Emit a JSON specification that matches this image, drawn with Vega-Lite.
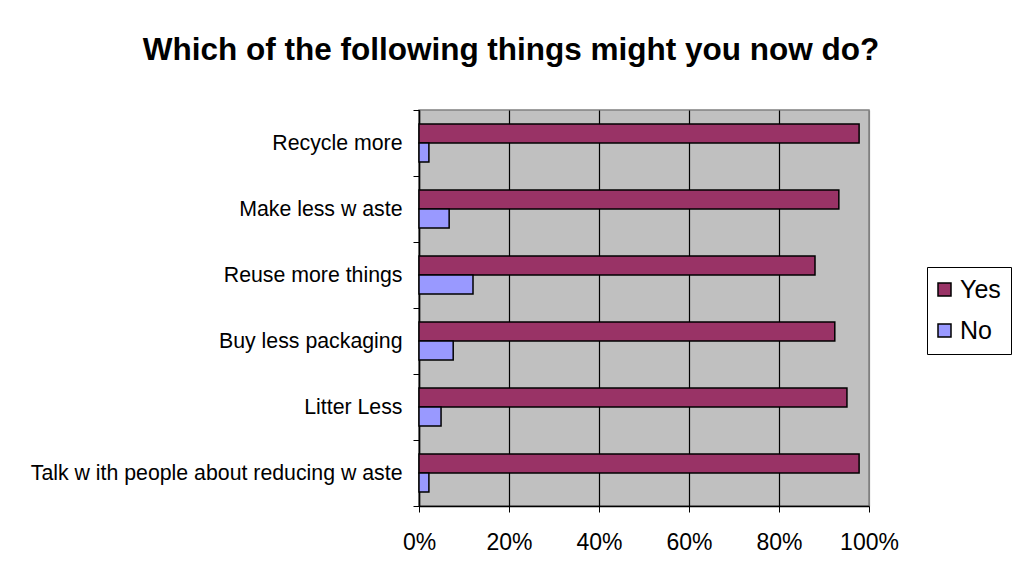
{
  "$schema": "https://vega.github.io/schema/vega-lite/v6.json",
  "width": 450,
  "height": 396,
  "autosize": {"type": "none"},
  "padding": {"left": 419, "top": 110, "right": 148, "bottom": 82},
  "background": "white",
  "title": {
    "text": "Which of the following things might you now do?",
    "font": "Liberation Sans",
    "fontSize": 31.5,
    "fontWeight": "bold",
    "color": "black",
    "anchor": "middle",
    "baseline": "alphabetic",
    "offset": 8,
    "dx": -133
  },
  "config": {
    "view": {"fill": "#C0C0C0", "stroke": "#808080", "strokeWidth": 1.5},
    "font": "Liberation Sans"
  },
  "data": {
    "values": [
      {"item": "Recycle more", "answer": "Yes", "pct": 0.978},
      {"item": "Recycle more", "answer": "No", "pct": 0.022},
      {"item": "Make less w aste", "answer": "Yes", "pct": 0.933},
      {"item": "Make less w aste", "answer": "No", "pct": 0.067},
      {"item": "Reuse more things", "answer": "Yes", "pct": 0.880},
      {"item": "Reuse more things", "answer": "No", "pct": 0.120},
      {"item": "Buy less packaging", "answer": "Yes", "pct": 0.924},
      {"item": "Buy less packaging", "answer": "No", "pct": 0.076},
      {"item": "Litter Less", "answer": "Yes", "pct": 0.951},
      {"item": "Litter Less", "answer": "No", "pct": 0.049},
      {"item": "Talk w ith people about reducing w aste", "answer": "Yes", "pct": 0.978},
      {"item": "Talk w ith people about reducing w aste", "answer": "No", "pct": 0.022}
    ]
  },
  "mark": {"type": "bar", "stroke": "black", "strokeWidth": 1.5},
  "encoding": {
    "y": {
      "field": "item",
      "type": "nominal",
      "sort": ["Recycle more", "Make less w aste", "Reuse more things", "Buy less packaging", "Litter Less", "Talk w ith people about reducing w aste"],
      "scale": {"paddingInner": 0, "paddingOuter": 0},
      "axis": {
        "title": null,
        "tickBand": "extent",
        "domainColor": "black",
        "domainWidth": 1.5,
        "tickColor": "black",
        "tickSize": 6,
        "labelFont": "Liberation Sans",
        "labelFontSize": 21.3,
        "labelColor": "black",
        "labelPadding": 11,
        "labelLimit": 500
      }
    },
    "yOffset": {
      "field": "answer",
      "type": "nominal",
      "sort": ["Yes", "No"],
      "scale": {"paddingInner": 0, "paddingOuter": 0.737}
    },
    "x": {
      "field": "pct",
      "type": "quantitative",
      "scale": {"domain": [0, 1], "nice": false},
      "axis": {
        "title": null,
        "values": [0, 0.2, 0.4, 0.6, 0.8, 1],
        "format": ".0%",
        "labelFlush": false,
        "grid": true,
        "gridColor": {"condition": {"test": "datum.value >= 1", "value": "#808080"}, "value": "black"},
        "gridOpacity": 1,
        "gridWidth": 1.2,
        "domainColor": "black",
        "domainWidth": 1.5,
        "tickColor": "black",
        "tickSize": 6,
        "labelFont": "Liberation Sans",
        "labelFontSize": 23,
        "labelColor": "black",
        "labelPadding": 19
      }
    },
    "color": {
      "field": "answer",
      "type": "nominal",
      "sort": ["Yes", "No"],
      "scale": {"domain": ["Yes", "No"], "range": ["#993366", "#9999FF"]},
      "legend": {
        "title": null,
        "orient": "none",
        "legendX": 508,
        "legendY": 157,
        "padding": 10,
        "strokeColor": "black",
        "fillColor": "white",
        "symbolType": "square",
        "symbolSize": 169,
        "symbolOffset": -5,
        "symbolStrokeColor": "black",
        "symbolStrokeWidth": 1.5,
        "labelFont": "Liberation Sans",
        "labelFontSize": 25,
        "labelColor": "black",
        "labelOffset": 3,
        "rowPadding": 15
      }
    }
  }
}
